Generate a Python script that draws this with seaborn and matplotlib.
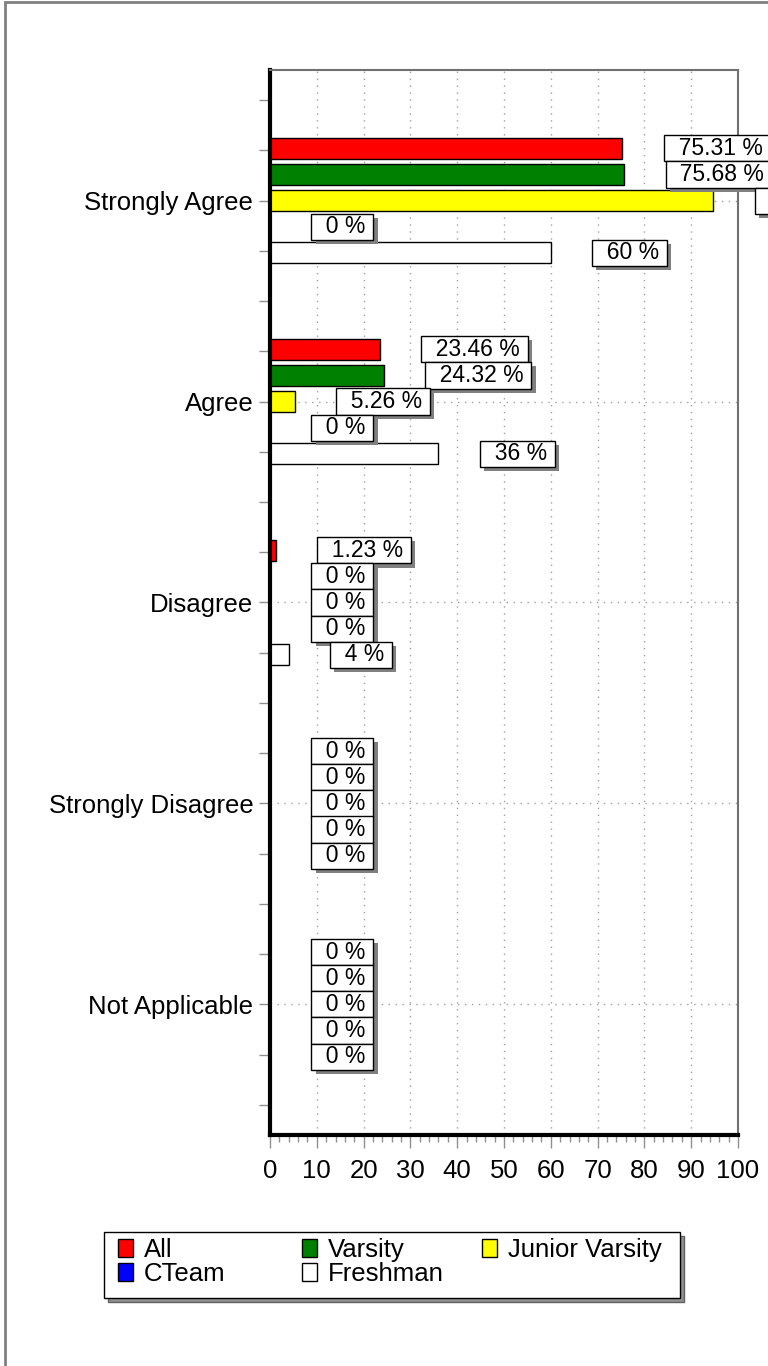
import matplotlib
matplotlib.use("Agg")
import matplotlib.pyplot as plt
import matplotlib.patheffects as pe
from matplotlib.patches import Patch, Rectangle
from matplotlib.ticker import MultipleLocator, FixedLocator
import seaborn as sns
import pandas as pd

categories = ["Strongly Agree", "Agree", "Disagree", "Strongly Disagree", "Not Applicable"]
series = ["All", "Varsity", "Junior Varsity", "CTeam", "Freshman"]
all_vals = [75.31, 23.46, 1.23, 0, 0]
varsity_vals = [75.68, 24.32, 0, 0, 0]
jv_vals = [94.74, 5.26, 0, 0, 0]
cteam_vals = [0, 0, 0, 0, 0]
freshman_vals = [60, 36, 4, 0, 0]
colors = ["#FF0000", "#008000", "#FFFF00", "#0000FF", "#FFFFFF"]
x_ticks = [0, 10, 20, 30, 40, 50, 60, 70, 80, 90, 100]

values = [all_vals, varsity_vals, jv_vals, cteam_vals, freshman_vals]
rows = []
for s, vals in zip(series, values):
    for c, v in zip(categories, vals):
        rows.append({"category": c, "series": s, "value": v})
df = pd.DataFrame(rows)

sns.set_style("white")
plt.rcParams["font.family"] = ["Liberation Sans", "DejaVu Sans"]
plt.rcParams["text.color"] = "black"
plt.rcParams["xtick.labelcolor"] = "black"
plt.rcParams["ytick.labelcolor"] = "black"

W, H = 768, 1366
fig = plt.figure(figsize=(W / 100, H / 100), dpi=100)
ax = fig.add_axes([270 / W, 1 - 1135 / H, 468 / W, 1065 / H])

sns.barplot(data=df, x="value", y="category", hue="series", order=categories,
            hue_order=series, palette=colors, orient="h", width=0.65, gap=0.19,
            edgecolor="black", linewidth=1, ax=ax, legend=False, errorbar=None,
            saturation=1)

ax.set_xlim(0, 100)
ax.set_ylim(4.65, -0.65)
ax.set_xlabel("")
ax.set_ylabel("")
ax.set_xticks(x_ticks)
ax.set_xticklabels([str(t) for t in x_ticks], fontsize=18.5, color="black")
ax.xaxis.set_minor_locator(MultipleLocator(2))
ax.set_yticks(range(len(categories)))
ax.set_yticklabels(categories, fontsize=18.5, color="black")
ax.yaxis.set_minor_locator(FixedLocator([i * 0.25 - 0.5 for i in range(21) if i % 4 != 2]))
ax.tick_params(axis="x", which="major", direction="out", length=9, width=1, color="#909090", pad=8, bottom=True)
ax.tick_params(axis="x", which="minor", direction="out", length=5, width=1, color="#909090", bottom=True)
ax.tick_params(axis="y", which="both", direction="out", length=8, width=1, color="#909090", pad=4, left=True)

ax.grid(True, axis="both", which="major", linestyle=(0, (1, 4)), color="#A0A0A0", linewidth=1)
ax.set_axisbelow(True)

for side in ["top", "right"]:
    ax.spines[side].set_visible(True)
    ax.spines[side].set_color("#707070")
    ax.spines[side].set_linewidth(1.5)
for side in ["left", "bottom"]:
    ax.spines[side].set_visible(True)
    ax.spines[side].set_color("black")
    ax.spines[side].set_linewidth(3)

# value labels
for cont, vals in zip(ax.containers, values):
    for bar, v in zip(cont.patches, vals):
        yc = bar.get_y() + bar.get_height() / 2
        t = ax.annotate(f"  {v:g} % ", xy=(v, yc), xytext=(31.0, 0), textcoords="offset points",
                        ha="left", va="center", fontsize=16.5, color="black", annotation_clip=False,
                        bbox=dict(boxstyle="square,pad=0.07", fc="white", ec="black", lw=1))
        t.get_bbox_patch().set_path_effects([
            pe.SimplePatchShadow(offset=(3, -3), shadow_rgbFace="#808080", alpha=1),
            pe.Normal()])

# legend frame with shadow
lx0, ly0, lx1, ly1 = 104, 1232, 680, 1298
fig.patches.append(Rectangle(((lx0 + 4) / W, 1 - (ly1 + 4) / H), (lx1 - lx0) / W, (ly1 - ly0) / H,
                             transform=fig.transFigure, facecolor="#909090", edgecolor="#606060",
                             linewidth=1, zorder=1))
fig.patches.append(Rectangle((lx0 / W, 1 - ly1 / H), (lx1 - lx0) / W, (ly1 - ly0) / H,
                             transform=fig.transFigure, facecolor="white", edgecolor="black",
                             linewidth=1, zorder=2))

# legend columns (fixed column positions like the reference)
handles = [Patch(facecolor=c, edgecolor="black", linewidth=1, label=s) for s, c in zip(series, colors)]
col_x = [118, 302, 482]
for j, x in enumerate(col_x):
    hs = [handles[j]] + ([handles[j + 3]] if j + 3 < len(handles) else [])
    lg = fig.legend(handles=hs, ncol=1, loc="upper left",
                    bbox_to_anchor=(x / W, 1 - 1238 / H), frameon=False,
                    fontsize=18.5, handlelength=0.6, handleheight=0.75, handletextpad=0.4,
                    borderpad=0, labelspacing=0.0, borderaxespad=0)
    lg.set_zorder(3)
    for txt in lg.get_texts():
        txt.set_color("black")

# outer frame
fig.patches.append(Rectangle((5 / W, -0.1), 1.2, 1.1 - 2 / H, transform=fig.transFigure,
                             fill=False, edgecolor="#808080", linewidth=2))

fig.savefig("out.png", dpi=100)
